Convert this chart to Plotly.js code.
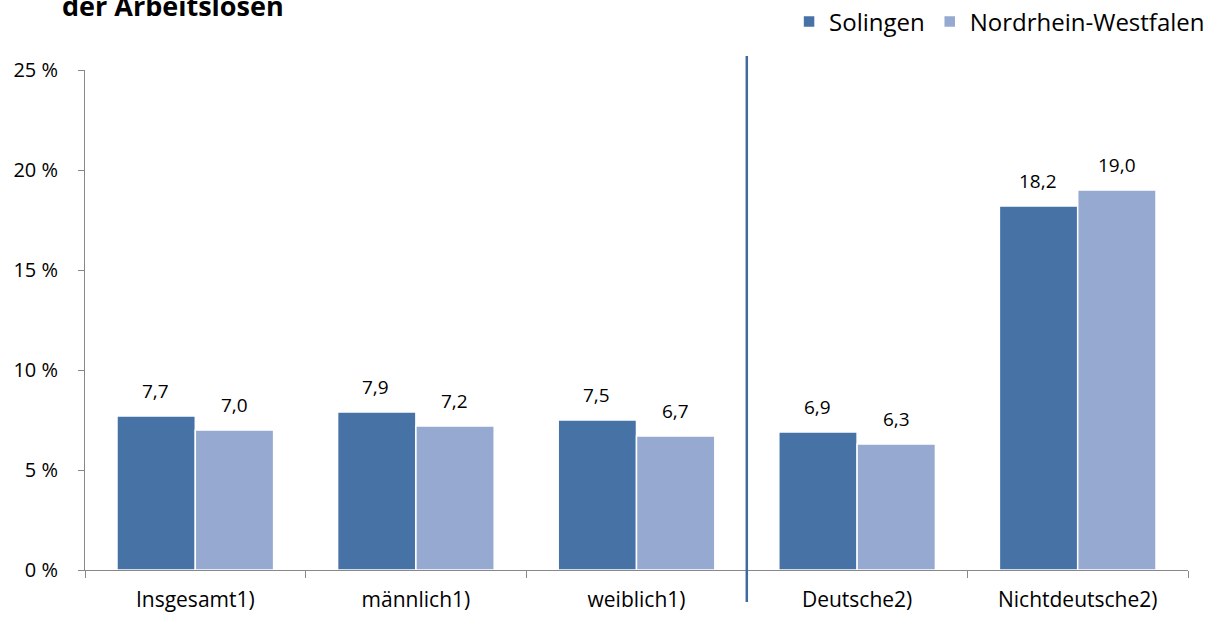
<!DOCTYPE html>
<html>
<head>
<meta charset="utf-8">
<script src="https://cdn.plot.ly/plotly-3.0.1.min.js"></script>
<style>html,body{margin:0;padding:0;background:#fff;}#chart{width:1215px;height:617px;}</style>
</head>
<body>
<div id="chart"></div>
<script>
const categories = ["Insgesamt1)", "männlich1)", "weiblich1)", "Deutsche2)", "Nichtdeutsche2)"];
const solingen = [7.7, 7.9, 7.5, 6.9, 18.2];
const nrw = [7.0, 7.2, 6.7, 6.3, 19.0];
const seriesNames = ["Solingen", "Nordrhein-Westfalen"];
const yTicks = [0, 5, 10, 15, 20, 25];
const titleText = "der Arbeitslosen";

const FONT = "'Open Sans', Lato, sans-serif";
const colors = ["#4672A6", "#95A9D1"];
const fmt = v => v.toFixed(1).replace(".", ",");

const traces = [solingen, nrw].map((vals, i) => ({
  type: "bar",
  name: seriesNames[i],
  x: categories,
  y: vals,
  marker: {color: colors[i], line: {color: "#ffffff", width: 1.5}},
  hoverinfo: "none"
}));

const annotations = [];
[solingen, nrw].forEach((vals, i) => {
  vals.forEach((v, j) => {
    annotations.push({
      x: categories[j], y: v, xref: "x", yref: "y",
      xshift: i === 0 ? -40 : 39, yshift: 25,
      text: fmt(v), showarrow: false, yanchor: "middle",
      font: {family: FONT, size: 19, color: "#000"}
    });
  });
});
annotations.push({
  xref: "paper", yref: "paper", x: -0.0227, y: 1.088,
  xanchor: "left", yanchor: "bottom", showarrow: false,
  text: "<b>" + titleText + "</b>",
  font: {family: FONT, size: 27, color: "#000"}
});

const layout = {
  width: 1215, height: 617,
  margin: {l: 85, r: 27, t: 70, b: 47},
  paper_bgcolor: "#fff", plot_bgcolor: "#fff",
  font: {family: FONT, size: 21, color: "#000"},
  barmode: "group", bargap: 0.29, bargroupgap: 0,
  showlegend: true,
  legend: {orientation: "h", x: 1.02, xanchor: "right", yref: "container", y: 1 - 22/617, yanchor: "middle",
           font: {family: FONT, size: 24, color: "#000"}, traceorder: "normal", itemwidth: 30},
  xaxis: {
    type: "category", showline: true, linecolor: "#888", linewidth: 1,
    ticks: "outside", tickson: "boundaries", ticklen: 7, tickcolor: "#888",
    showgrid: false, zeroline: false, ticklabelstandoff: 11,
    tickfont: {family: FONT, size: 21}
  },
  yaxis: {
    range: [0, 25], tickvals: yTicks, ticktext: yTicks.map(t => t + " %"),
    showline: true, linecolor: "#888", linewidth: 1,
    ticks: "outside", ticklen: 6, tickcolor: "#888",
    showgrid: false, zeroline: false, ticklabelstandoff: 16,
    tickfont: {family: FONT, size: 20}
  },
  shapes: [{
    type: "line", xref: "paper", yref: "paper", x0: 0.6, x1: 0.6,
    y0: -0.064, y1: 1.028, line: {color: "#3F6AA0", width: 2.5}
  }],
  annotations: annotations
};

Plotly.newPlot("chart", traces, layout, {displayModeBar: false, staticPlot: true});
</script>
</body>
</html>
